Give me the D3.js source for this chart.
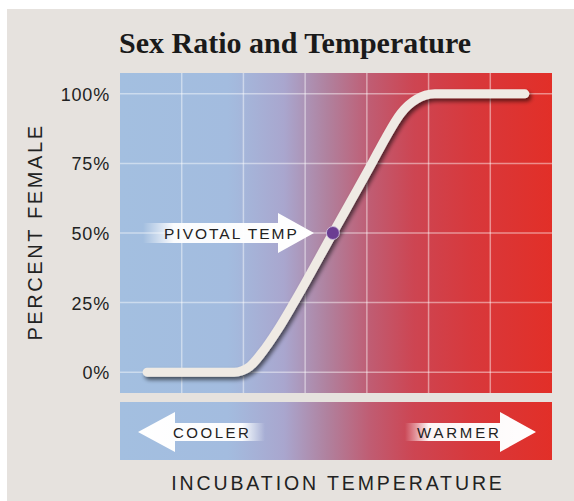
<!DOCTYPE html>
<html><head><meta charset="utf-8">
<script src="https://cdn.jsdelivr.net/npm/d3@7"></script>
<style>html,body{margin:0;padding:0;background:#fff;}svg{display:block;}</style>
</head><body>
<script>
// ---- data ----
const title = "Sex Ratio and Temperature";
const yTicks = [0, 25, 50, 75, 100];
const yTickLabels = ["0%", "25%", "50%", "75%", "100%"];
const xGridCols = [1, 2, 3, 4, 5, 6];
// incubation temperature (relative units, 0..7) vs percent female
const tempPos = [0.44, 1.85, 2.1, 2.3, 2.55, 2.82, 3.45, 4.08, 4.3, 4.55, 4.8, 5.1, 6.56];
const pctFemale = [0, 0, 2, 7, 15, 25, 50, 75, 84, 93, 98, 100, 100];
const pivot = {temp: 3.45, pct: 50, label: "PIVOTAL TEMP"};
const yAxisTitle = "PERCENT FEMALE";
const xAxisTitle = "INCUBATION TEMPERATURE";
const coolLabel = "COOLER", warmLabel = "WARMER";

const W = 574, H = 501;
const svg = d3.select("body").append("svg").attr("width", W).attr("height", H);
const defs = svg.append("defs");

const x = d3.scaleLinear().domain([0, 7]).range([120, 552]);
const y = d3.scaleLinear().domain([-7.5, 107.5]).range([393, 73]);

// gradient
const stops = [[0, "#a3bfe0"], [0.25, "#a3bcdf"], [0.38, "#a9a6ce"], [0.48, "#b0819e"], [0.58, "#c05c72"], [0.68, "#cd4552"], [0.82, "#d8383b"], [1, "#e22f28"]];
const g1 = defs.append("linearGradient").attr("id", "temp").attr("x1", 0).attr("x2", 1).attr("y1", 0).attr("y2", 0);
stops.forEach(s => g1.append("stop").attr("offset", s[0]).attr("stop-color", s[1]));

function fadeGrad(id, dir) {
  const g = defs.append("linearGradient").attr("id", id).attr("x1", 0).attr("x2", 1).attr("y1", 0).attr("y2", 0);
  if (dir === "in") {
    g.append("stop").attr("offset", 0).attr("stop-color", "#fff").attr("stop-opacity", 0);
    g.append("stop").attr("offset", 0.18).attr("stop-color", "#fff").attr("stop-opacity", 0.95);
    g.append("stop").attr("offset", 1).attr("stop-color", "#fff").attr("stop-opacity", 1);
  } else {
    g.append("stop").attr("offset", 0).attr("stop-color", "#fff").attr("stop-opacity", 1);
    g.append("stop").attr("offset", 0.82).attr("stop-color", "#fff").attr("stop-opacity", 0.95);
    g.append("stop").attr("offset", 1).attr("stop-color", "#fff").attr("stop-opacity", 0);
  }
}
fadeGrad("fadeIn", "in");
fadeGrad("fadeOut", "out");

const sh = defs.append("filter").attr("id", "shadow").attr("x", "-10%").attr("y", "-10%").attr("width", "120%").attr("height", "120%");
sh.append("feGaussianBlur").attr("in", "SourceAlpha").attr("stdDeviation", 2);
sh.append("feOffset").attr("dx", 2).attr("dy", 3).attr("result", "b");
sh.append("feComponentTransfer").append("feFuncA").attr("type", "linear").attr("slope", 0.6);
const mg = sh.append("feMerge"); mg.append("feMergeNode"); mg.append("feMergeNode").attr("in", "SourceGraphic");

// background
svg.append("rect").attr("x", 7).attr("y", 9).attr("width", W - 7).attr("height", H - 9).attr("fill", "#e6e2de");

// title
svg.append("text").attr("x", 295).attr("y", 53).attr("text-anchor", "middle")
  .attr("font-family", "Liberation Serif, serif").attr("font-weight", "bold").attr("font-size", 30)
  .attr("fill", "#1a1a1a").text(title);

// plot area
svg.append("rect").attr("x", x(0)).attr("y", y(107.5)).attr("width", x(7) - x(0)).attr("height", y(-7.5) - y(107.5)).attr("fill", "url(#temp)");
const grid = svg.append("g").attr("stroke", "#fff").attr("stroke-opacity", 0.45).attr("stroke-width", 1.5);
xGridCols.forEach(c => grid.append("line").attr("x1", x(c)).attr("x2", x(c)).attr("y1", y(107.5)).attr("y2", y(-7.5)));
yTicks.forEach(t => grid.append("line").attr("x1", x(0)).attr("x2", x(7)).attr("y1", y(t)).attr("y2", y(t)));

// y axis labels
const yAxis = d3.axisLeft(y).tickValues(yTicks).tickFormat((d, i) => yTickLabels[i]).tickSize(0).tickPadding(10);
const ya = svg.append("g").attr("transform", `translate(${x(0)},0)`).call(yAxis);
ya.select(".domain").remove();
ya.selectAll("text").attr("font-family", "Liberation Sans, Arial, sans-serif").attr("font-size", 18)
  .attr("fill", "#222").attr("letter-spacing", 0.8).attr("dy", "0.36em");

svg.append("text").attr("transform", "translate(42,232) rotate(-90)").attr("text-anchor", "middle")
  .attr("font-family", "Liberation Sans, Arial, sans-serif").attr("font-size", 20).attr("letter-spacing", 2.6)
  .attr("fill", "#222").text(yAxisTitle);

// curve
const pts = tempPos.map((t, i) => [t, pctFemale[i]]);
const line = d3.line().x(d => x(d[0])).y(d => y(d[1])).curve(d3.curveMonotoneX);
svg.append("path").attr("d", line(pts)).attr("fill", "none").attr("stroke", "#efeae4")
  .attr("stroke-width", 9).attr("stroke-linecap", "round").attr("stroke-linejoin", "round").attr("filter", "url(#shadow)");

// pivotal arrow
const py = y(pivot.pct);
const pArrow = [[143, py - 10], [278, py - 10], [278, py - 20], [314, py], [278, py + 20], [278, py + 10], [143, py + 10]];
svg.append("path").attr("d", d3.line()(pArrow) + "Z").attr("fill", "url(#fadeIn)");
svg.append("text").attr("x", 164).attr("y", py + 5.5).attr("font-family", "Liberation Sans, Arial, sans-serif")
  .attr("font-size", 15.5).attr("letter-spacing", 2).attr("fill", "#222").text(pivot.label);
svg.append("circle").attr("cx", x(pivot.temp)).attr("cy", py).attr("r", 6.5).attr("fill", "#6b3d92")
  .attr("stroke", "#c9b9d8").attr("stroke-width", 1);

// bottom bar
svg.append("rect").attr("x", x(0)).attr("y", 402).attr("width", x(7) - x(0)).attr("height", 58).attr("fill", "url(#temp)");
const cy = 432;
const cArrow = [[265, cy - 9], [175, cy - 9], [175, cy - 20], [138, cy], [175, cy + 20], [175, cy + 9], [265, cy + 9]];
svg.append("path").attr("d", d3.line()(cArrow) + "Z").attr("fill", "url(#fadeOut)");
const wArrow = [[405, cy - 9], [500, cy - 9], [500, cy - 20], [536, cy], [500, cy + 20], [500, cy + 9], [405, cy + 9]];
svg.append("path").attr("d", d3.line()(wArrow) + "Z").attr("fill", "url(#fadeIn)");
svg.append("text").attr("x", 173).attr("y", cy + 5.5).attr("font-family", "Liberation Sans, Arial, sans-serif")
  .attr("font-size", 15).attr("letter-spacing", 2.5).attr("fill", "#222").text(coolLabel);
svg.append("text").attr("x", 417).attr("y", cy + 5.5).attr("font-family", "Liberation Sans, Arial, sans-serif")
  .attr("font-size", 15).attr("letter-spacing", 2.8).attr("fill", "#222").text(warmLabel);

svg.append("text").attr("x", 338).attr("y", 490).attr("text-anchor", "middle")
  .attr("font-family", "Liberation Sans, Arial, sans-serif").attr("font-size", 19.5).attr("letter-spacing", 2.9)
  .attr("fill", "#222").text(xAxisTitle);
</script>
</body></html>
